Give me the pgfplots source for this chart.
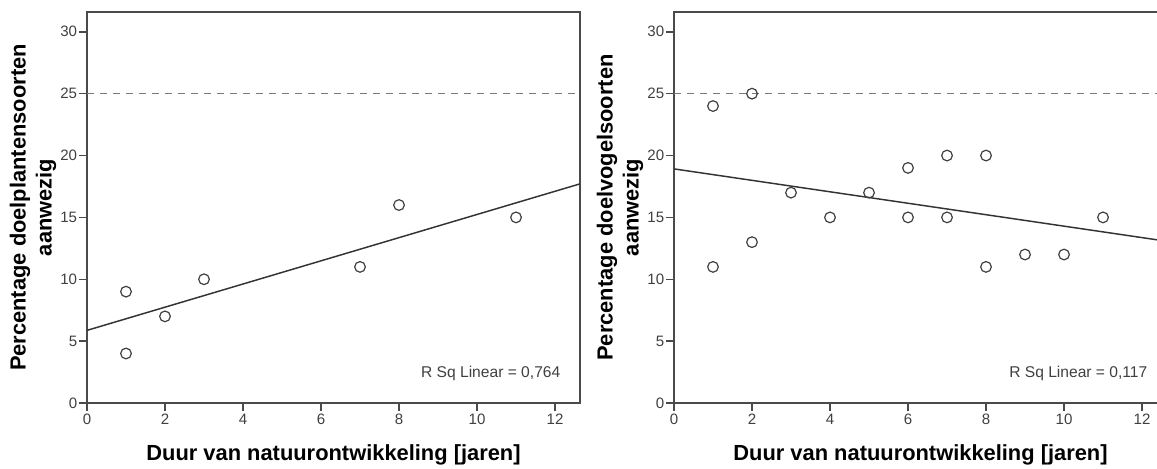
\documentclass[border=0pt]{standalone}
\usepackage{pgfplots}
\pgfplotsset{compat=1.18}
\usepackage{fontspec}
\setmainfont{Liberation Sans}
\definecolor{axisgray}{HTML}{4A4A4A}
\definecolor{markgray}{HTML}{404040}
\definecolor{dashgray}{HTML}{7A7A7A}
\definecolor{ticktext}{HTML}{404040}
\begin{document}
\begin{tikzpicture}
\pgfplotsset{
  myaxis/.style={
    scale only axis, width=369.75pt, height=293.25pt,
    xmin=0, xmax=12.64, ymin=0, ymax=31.6,
    xtick={0,2,...,12}, ytick={0,5,...,30},
    xtick pos=left, ytick pos=left,
    tick align=outside, major tick length=6pt,
    tick style={axisgray, line width=1.1pt},
    axis line style={axisgray, line width=1.3pt},
    ticklabel style={font=\fontsize{11.3}{13}\selectfont, text=ticktext},
    yticklabel style={inner sep=1.2pt},
    xticklabel style={inner sep=2.2pt},
    /pgf/number format/assume math mode=true,
    label style={font=\fontsize{16.4}{19.5}\selectfont\bfseries},
    xlabel style={at={(axis description cs:0.5,-0.148)}, anchor=base},
    ylabel style={at={(axis description cs:-0.1095,0.5)}, anchor=center, align=center},
    xlabel={Duur van natuurontwikkeling [jaren]},
  }
}
\begin{axis}[myaxis, at={(0,0)}, anchor=south west,
  ylabel={Percentage doelplantensoorten\\aanwezig}]
  \addplot[dashgray, line width=0.75pt, dash pattern=on 5.25pt off 4.5pt] coordinates {(0,25) (12.64,25)};
  \addplot[black!80, line width=1.1pt] coordinates {(0,5.87) (12.64,17.71)};
  \addplot[only marks, mark=o, mark size=4pt, mark options={draw=markgray, line width=0.9pt}] coordinates {
    (1,9) (1,4) (2,7) (3,10) (7,11) (8,16) (11,15)};
  \node[anchor=base east, font=\fontsize{11.7}{13}\selectfont, text=ticktext] at (rel axis cs:0.9696,0.064) {R Sq Linear = 0,764};
\end{axis}
\begin{axis}[myaxis, at={(440.25pt,0)}, anchor=south west,
  ylabel={Percentage doelvogelsoorten\\aanwezig}]
  \addplot[dashgray, line width=0.75pt, dash pattern=on 5.25pt off 4.5pt] coordinates {(0,25) (12.64,25)};
  \addplot[black!80, line width=1.1pt] coordinates {(0,18.92) (12.64,13.07)};
  \addplot[only marks, mark=o, mark size=4pt, mark options={draw=markgray, line width=0.9pt}] coordinates {
    (1,24) (1,11) (2,25) (2,13) (3,17) (4,15) (5,17) (6,19) (6,15) (7,20) (7,15) (8,20) (8,11) (9,12) (10,12) (11,15)};
  \node[anchor=base east, font=\fontsize{11.7}{13}\selectfont, text=ticktext] at (rel axis cs:0.9696,0.064) {R Sq Linear = 0,117};
\end{axis}
\pgfresetboundingbox
\path[use as bounding box] (-65.25pt,-48.75pt) rectangle (802.5pt,302.25pt);
\end{tikzpicture}
\end{document}
